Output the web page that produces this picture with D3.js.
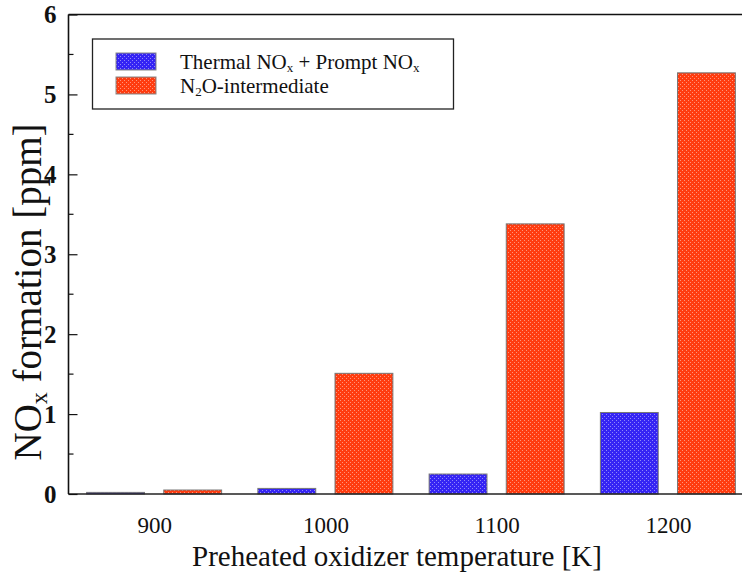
<!DOCTYPE html>
<html><head><meta charset="utf-8">
<script src="https://cdn.jsdelivr.net/npm/d3@7"></script>
<style>body{margin:0;background:#fff} svg text{font-family:"Liberation Serif","Times New Roman",Times,serif;}</style>
</head><body>
<svg id="c" width="742" height="575"></svg>
<script>
const categories = [900, 1000, 1100, 1200];
const seriesNames = ["Thermal NOx + Prompt NOx", "N2O-intermediate"];
const thermal = [0.02, 0.07, 0.25, 1.02];
const n2o = [0.05, 1.51, 3.38, 5.27];
const yTicks = [0, 1, 2, 3, 4, 5, 6];

const svg = d3.select("#c");
const L = 68.5, T = 14.5, B = 494, Rv = 742;
const x = d3.scaleLinear().domain([850, 1250]).range([L, 753.5]);
const xs = d3.scaleBand().domain(["t", "n"]).range([-67.5, 67.5]).paddingInner(0.25);
const y = d3.scaleLinear().domain([0, 6]).range([B, T]);

const defs = svg.append("defs");
function pat(id, col) {
  const p = defs.append("pattern").attr("id", id).attr("width", 4).attr("height", 4).attr("patternUnits", "userSpaceOnUse");
  p.append("rect").attr("width", 4).attr("height", 4).attr("fill", col);
  p.append("rect").attr("x", 0).attr("y", 0).attr("width", 1).attr("height", 1).attr("fill", "#fff").attr("opacity", 0.45);
  p.append("rect").attr("x", 2).attr("y", 2).attr("width", 1).attr("height", 1).attr("fill", "#fff").attr("opacity", 0.45);
}
pat("pb", "#3524f4");
pat("pr", "#ff3c10");

const data = categories.map((c, i) => ({c, t: thermal[i], n: n2o[i]}));
const g = svg.append("g");
data.forEach(d => {
  [["t", d.t, "url(#pb)"], ["n", d.n, "url(#pr)"]].forEach(([k, v, f]) => {
    g.append("rect")
      .attr("x", x(d.c) + xs(k)).attr("width", xs.bandwidth())
      .attr("y", y(v)).attr("height", y(0) - y(v))
      .attr("fill", f).attr("stroke", "#777").attr("stroke-width", 1);
  });
});

// frame
svg.append("line").attr("x1", L).attr("x2", Rv).attr("y1", T).attr("y2", T).attr("stroke", "#111").attr("stroke-width", 1.6);
svg.append("line").attr("x1", L).attr("x2", Rv).attr("y1", B).attr("y2", B).attr("stroke", "#222").attr("stroke-width", 1.6);
svg.append("line").attr("x1", L).attr("x2", L).attr("y1", T).attr("y2", B).attr("stroke", "#111").attr("stroke-width", 1.6);

// y axis ticks
const ya = svg.append("g").attr("transform", `translate(${L},0)`)
  .call(d3.axisLeft(y).tickValues(yTicks).tickSize(-9).tickPadding(12).tickFormat(d3.format("d")));
ya.select(".domain").remove();
ya.attr("font-family", null);
ya.selectAll("line").attr("stroke", "#111").attr("stroke-width", 1.2);
ya.selectAll("text").attr("font-weight", "bold").attr("font-size", 25).attr("fill", "#111");
const minor = d3.range(0.5, 6, 1);
svg.append("g").selectAll("line").data(minor).join("line")
  .attr("x1", L).attr("x2", L + 5).attr("y1", d => y(d)).attr("y2", d => y(d)).attr("stroke", "#111").attr("stroke-width", 1.2);

// x axis labels
const xa = svg.append("g").attr("transform", `translate(0,${B})`)
  .call(d3.axisBottom(x).tickValues(categories).tickSize(0).tickPadding(23).tickFormat(d3.format("d")));
xa.select(".domain").remove();
xa.attr("font-family", null);
xa.selectAll("text").attr("font-size", 23).attr("fill", "#111");

// titles
svg.append("text").attr("x", 397).attr("y", 566).attr("text-anchor", "middle")
  .attr("font-size", 29).attr("fill", "#111")
  .text("Preheated oxidizer temperature [K]");
const yt = svg.append("text").attr("transform", "translate(41,292) rotate(-90)").attr("text-anchor", "middle")
  .attr("font-size", 39).attr("fill", "#111");
yt.append("tspan").text("NO");
yt.append("tspan").attr("font-size", 24).attr("dy", 6).text("x");
yt.append("tspan").attr("dy", -6).text(" formation [ppm]");

// legend
svg.append("rect").attr("x", 92.5).attr("y", 39).attr("width", 361).attr("height", 70)
  .attr("fill", "#fff").attr("stroke", "#222").attr("stroke-width", 1.3);
const leg = [["url(#pb)", 53], ["url(#pr)", 77]];
leg.forEach(([f, yy]) => {
  svg.append("rect").attr("x", 116).attr("y", yy).attr("width", 40).attr("height", 17)
    .attr("fill", f).attr("stroke", "#888").attr("stroke-width", 1);
});
const t1 = svg.append("text").attr("x", 180).attr("y", 69).attr("font-size", 21).attr("fill", "#111");
t1.append("tspan").text("Thermal NO");
t1.append("tspan").attr("font-size", 13).attr("dy", 3).text("x");
t1.append("tspan").attr("dy", -3).text(" + Prompt NO");
t1.append("tspan").attr("font-size", 13).attr("dy", 3).text("x");
const t2 = svg.append("text").attr("x", 180).attr("y", 93).attr("font-size", 21).attr("fill", "#111");
t2.append("tspan").text("N");
t2.append("tspan").attr("font-size", 13).attr("dy", 3).text("2");
t2.append("tspan").attr("dy", -3).text("O-intermediate");
</script>
</body></html>
